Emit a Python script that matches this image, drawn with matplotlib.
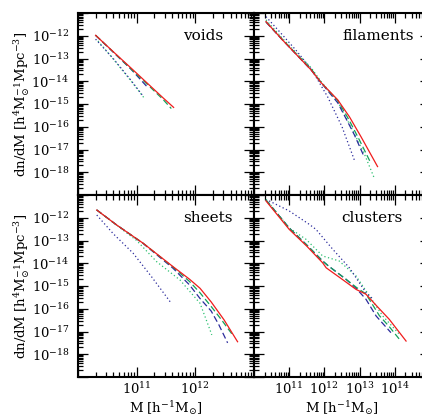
import numpy as np
import matplotlib
matplotlib.use("Agg")
import matplotlib.pyplot as plt
from matplotlib.ticker import LogLocator, FuncFormatter, NullFormatter

plt.rcParams['font.family'] = ['DejaVu Serif']
plt.rcParams['mathtext.fontset'] = 'dejavuserif'

# ---- data: log10(M [h^-1 Msun]) and log10(dn/dM) ----
voids_red_x = [10.30, 10.60, 10.90, 11.20, 11.45, 11.63]
voids_red_y = [-11.98, -12.70, -13.41, -14.13, -14.73, -15.15]
voids_gdash_x = [10.30, 10.60, 10.90, 11.20, 11.45, 11.59]
voids_gdash_y = [-11.98, -12.71, -13.45, -14.18, -14.80, -15.20]
voids_bdash_x = [10.30, 10.60, 10.90, 11.18]
voids_bdash_y = [-11.98, -12.72, -13.46, -14.25]
voids_gdot_x = [10.34, 10.60, 10.90, 11.14]
voids_gdot_y = [-12.23, -13.02, -13.97, -14.78]
voids_bdot_x = [10.30, 10.60, 10.90, 11.10]
voids_bdot_y = [-12.15, -13.00, -13.95, -14.62]

fil_red_x = [10.34, 10.80, 11.20, 11.62, 11.90, 12.38, 12.71, 13.04, 13.51]
fil_red_y = [-11.38, -12.17, -12.82, -13.50, -14.05, -14.82, -15.56, -16.44, -17.75]
fil_gdash_x = [10.34, 10.80, 11.20, 11.62, 11.90, 12.38, 12.70, 13.00, 13.32]
fil_gdash_y = [-11.38, -12.15, -12.80, -13.45, -14.05, -14.85, -15.70, -16.60, -17.60]
fil_bdash_x = [10.34, 10.80, 11.20, 11.62, 11.90, 12.38, 12.60, 12.85, 13.13]
fil_bdash_y = [-11.40, -12.17, -12.82, -13.50, -14.05, -14.95, -15.60, -16.35, -17.32]
fil_gdot_x = [10.34, 10.80, 11.20, 11.62, 11.90, 12.38, 12.85, 13.15, 13.42]
fil_gdot_y = [-11.30, -12.10, -12.75, -13.40, -14.00, -14.90, -16.30, -17.25, -18.27]
fil_bdot_x = [10.34, 10.80, 11.20, 11.62, 11.81, 12.09, 12.50, 12.85]
fil_bdot_y = [-11.16, -11.95, -12.65, -13.45, -13.94, -14.68, -16.00, -17.46]

sh_red_x = [10.32, 10.66, 11.11, 11.62, 11.90, 12.08, 12.27, 12.49, 12.72]
sh_red_y = [-11.66, -12.32, -13.12, -14.15, -14.70, -15.10, -15.70, -16.49, -17.45]
sh_gdash_x = [10.32, 10.66, 11.11, 11.62, 11.90, 12.08, 12.27, 12.45, 12.65]
sh_gdash_y = [-11.66, -12.32, -13.12, -14.17, -14.80, -15.30, -15.90, -16.50, -17.20]
sh_bdash_x = [10.32, 10.66, 11.11, 11.62, 11.90, 12.08, 12.27, 12.40, 12.55]
sh_bdash_y = [-11.66, -12.32, -13.13, -14.22, -14.95, -15.55, -16.10, -16.70, -17.50]
sh_gdot_x = [10.32, 10.66, 11.00, 11.34, 11.74, 12.08, 12.25, 12.28]
sh_gdot_y = [-11.66, -12.33, -13.00, -13.93, -14.74, -15.76, -16.93, -17.15]
sh_bdot_x = [10.32, 10.60, 10.94, 11.25, 11.57]
sh_bdot_y = [-11.88, -12.70, -13.56, -14.58, -15.69]

cl_red_x = [10.34, 11.00, 11.50, 11.95, 12.05, 12.50, 12.90, 13.18, 13.50, 13.84, 14.32]
cl_red_y = [-11.26, -12.51, -13.25, -13.98, -14.20, -14.70, -15.15, -15.36, -15.90, -16.46, -17.42]
cl_gdash_x = [10.34, 11.00, 11.50, 11.95, 12.10, 12.61, 12.90, 13.18, 13.56, 13.85, 14.13]
cl_gdash_y = [-11.22, -12.45, -13.20, -13.90, -14.10, -14.70, -15.05, -15.35, -16.30, -16.80, -17.34]
cl_bdash_x = [10.34, 11.00, 11.50, 11.95, 12.10, 12.61, 12.90, 13.18, 13.47, 13.89]
cl_bdash_y = [-11.22, -12.45, -13.20, -13.90, -14.10, -14.70, -15.10, -15.58, -16.32, -17.05]
cl_gdot_x = [10.34, 11.00, 11.48, 11.95, 12.42, 12.90, 13.28, 13.66, 14.13]
cl_gdot_y = [-11.19, -12.45, -12.95, -13.68, -13.90, -14.56, -15.44, -16.32, -17.12]
cl_bdot_x = [10.43, 11.00, 11.57, 11.76, 12.24, 12.71, 13.18, 13.40]
cl_bdot_y = [-11.26, -11.70, -12.29, -12.51, -13.39, -14.20, -15.29, -15.60]

panel_names = ["voids", "filaments", "sheets", "clusters"]
xlims = [(1e10, 1e13), (1e10, 1e15), (1e10, 1e13), (1e10, 1e15)]
ylim = (1e-19, 1e-11)

RED = '#f01c1c'
GREEN = '#14a05a'
GREEN_DOT = '#2cc070'
BLUE = '#2b2b9c'

series = [
    [(voids_gdot_x, voids_gdot_y, GREEN_DOT, ':'), (voids_bdot_x, voids_bdot_y, BLUE, ':'),
     (voids_bdash_x, voids_bdash_y, BLUE, '--'), (voids_gdash_x, voids_gdash_y, GREEN, '--'),
     (voids_red_x, voids_red_y, RED, '-')],
    [(fil_gdot_x, fil_gdot_y, GREEN_DOT, ':'), (fil_bdot_x, fil_bdot_y, BLUE, ':'),
     (fil_bdash_x, fil_bdash_y, BLUE, '--'), (fil_gdash_x, fil_gdash_y, GREEN, '--'),
     (fil_red_x, fil_red_y, RED, '-')],
    [(sh_gdot_x, sh_gdot_y, GREEN_DOT, ':'), (sh_bdot_x, sh_bdot_y, BLUE, ':'),
     (sh_bdash_x, sh_bdash_y, BLUE, '--'), (sh_gdash_x, sh_gdash_y, GREEN, '--'),
     (sh_red_x, sh_red_y, RED, '-')],
    [(cl_gdot_x, cl_gdot_y, GREEN_DOT, ':'), (cl_bdot_x, cl_bdot_y, BLUE, ':'),
     (cl_bdash_x, cl_bdash_y, BLUE, '--'), (cl_gdash_x, cl_gdash_y, GREEN, '--'),
     (cl_red_x, cl_red_y, RED, '-')],
]

W, H = 422, 417
fig = plt.figure(figsize=(W / 100, H / 100), dpi=100)

col_px = [(78, 254), (254, 430)]
row_px = [(13, 195), (195, 377)]
text_pos = [(0.71, 0.875), (0.705, 0.873), (0.74, 0.874), (0.67, 0.874)]


def make_fmt(lo, hi):
    def f(v, pos):
        e = int(round(np.log10(v)))
        if e <= lo or e >= hi:
            return ''
        return r'$10^{%d}$' % e
    return f


for i in range(4):
    r, c = divmod(i, 2)
    x0, x1 = col_px[c]
    y0, y1 = row_px[r]
    ax = fig.add_axes([x0 / W, (H - y1) / H, (x1 - x0) / W, (y1 - y0) / H])
    ax.set_xscale('log')
    ax.set_yscale('log')
    for xs, ys, col, ls in series[i]:
        ax.plot(10 ** np.array(xs), 10 ** np.array(ys), color=col, ls=ls, lw=0.9,
                dashes=(5, 2.5) if ls == '--' else ((1, 2) if ls == ':' else (None, None)))
    ax.set_xlim(*xlims[i])
    ax.set_ylim(*ylim)
    ax.xaxis.set_major_locator(LogLocator(base=10, numticks=30))
    ax.xaxis.set_minor_locator(LogLocator(base=10, subs=np.arange(2, 10), numticks=30))
    ax.yaxis.set_major_locator(LogLocator(base=10, numticks=30))
    ax.yaxis.set_minor_locator(LogLocator(base=10, subs=np.arange(2, 10), numticks=30))
    ax.xaxis.set_minor_formatter(NullFormatter())
    ax.yaxis.set_minor_formatter(NullFormatter())
    xl = int(round(np.log10(xlims[i][0])))
    xh = 15 if c == 1 else int(round(np.log10(xlims[i][1])))
    ax.xaxis.set_major_formatter(FuncFormatter(make_fmt(xl, xh)))
    ax.yaxis.set_major_formatter(FuncFormatter(make_fmt(-19, -11)))
    ax.tick_params(which='both', direction='in', top=True, right=True, width=0.9,
                   labelsize=9.5)
    ax.tick_params(axis='x', pad=3)
    ax.tick_params(axis='y', pad=6)
    ax.tick_params(which='major', length=7)
    ax.tick_params(which='minor', length=3.5)
    for s in ax.spines.values():
        s.set_linewidth(1.5)
    if r == 0:
        ax.tick_params(labelbottom=False)
    if c == 1:
        ax.tick_params(labelleft=False)
    tx, ty = text_pos[i]
    ax.text(tx, ty, panel_names[i], transform=ax.transAxes, ha='center', va='center',
            fontsize=11)

# axis labels
for c in range(2):
    xc = (col_px[c][0] + min(col_px[c][1], 430)) / 2
    fig.text(xc / W, 1 - 408 / H, r'M [h$^{-1}$M$_{\odot}$]', ha='center', va='center',
             fontsize=9.5)
for r in range(2):
    yc = (row_px[r][0] + row_px[r][1]) / 2
    fig.text(22 / W, 1 - yc / H, r'dn/dM [h$^4$M$_{\odot}^{-1}$Mpc$^{-3}$]', ha='center',
             va='center', rotation=90, fontsize=9.5)

fig.savefig('out.png', dpi=100)
